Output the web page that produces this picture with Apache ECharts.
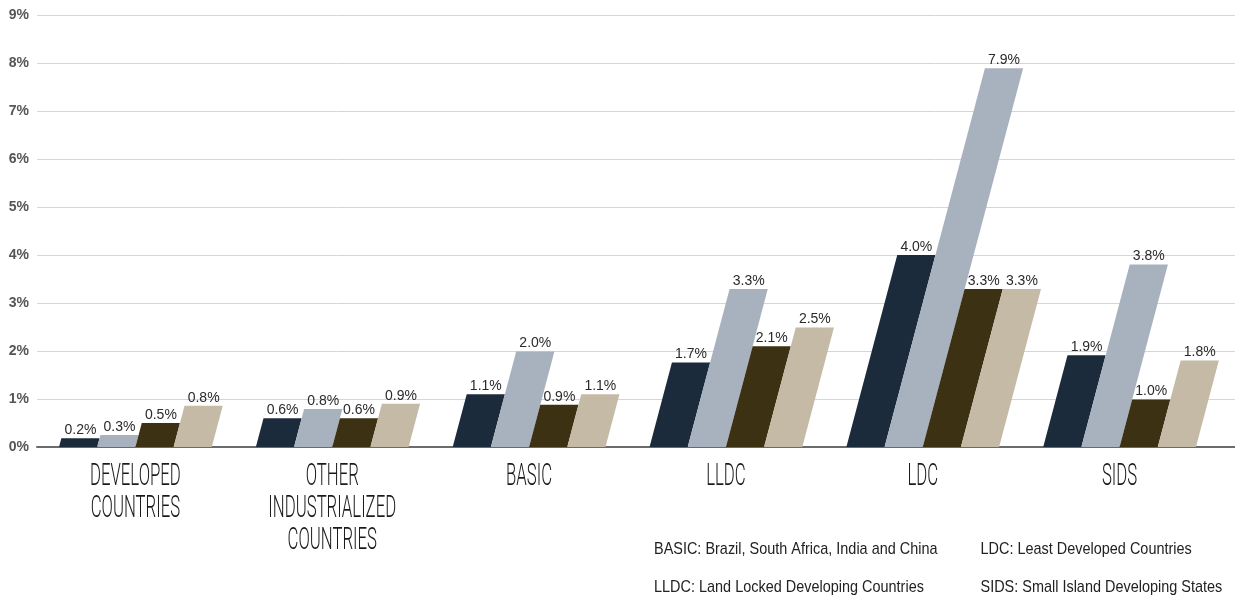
<!DOCTYPE html>
<html><head><meta charset="utf-8">
<script src="https://cdn.jsdelivr.net/npm/echarts@6/dist/echarts.min.js"></script>
<style>html,body{margin:0;padding:0;background:#fff}#c{width:1235px;height:598px}</style>
</head><body><div id="c"></div>
<script>
// ---- data ----
const categories = ['DEVELOPED\nCOUNTRIES', 'OTHER\nINDUSTRIALIZED\nCOUNTRIES', 'BASIC', 'LLDC', 'LDC', 'SIDS'];
const seriesA = [0.18, 0.60, 1.10, 1.76, 4.00, 1.91];
const seriesB = [0.25, 0.79, 1.99, 3.29, 7.89, 3.80];
const seriesC = [0.50, 0.60, 0.88, 2.10, 3.29, 0.99];
const seriesD = [0.86, 0.90, 1.10, 2.49, 3.29, 1.80];
const labelsA = ['0.2%', '0.6%', '1.1%', '1.7%', '4.0%', '1.9%'];
const labelsB = ['0.3%', '0.8%', '2.0%', '3.3%', '7.9%', '3.8%'];
const labelsC = ['0.5%', '0.6%', '0.9%', '2.1%', '3.3%', '1.0%'];
const labelsD = ['0.8%', '0.9%', '1.1%', '2.5%', '3.3%', '1.8%'];
const yTicks = [0, 1, 2, 3, 4, 5, 6, 7, 8, 9];
const notes = [
  'BASIC: Brazil, South Africa, India and China',
  'LDC: Least Developed Countries',
  'LLDC: Land Locked Developing Countries',
  'SIDS: Small Island Developing States'
];

// ---- style ----
const colors = ['#1c2b3b', '#a8b2bf', '#3d3113', '#c4baa6'];
const BAR_FRAC = 0.776;
const SLANT = 0.265;

function barSeries(k, values, labels) {
  return {
    type: 'custom',
    xAxisIndex: 1, yAxisIndex: 1,
    data: values.map((v, i) => [i, v]),
    encode: { x: 0, y: 1 },
    renderItem: function (params, api) {
      const i = api.value(0), v = api.value(1);
      const base = api.coord([i, 0]);
      const top = api.coord([i, v]);
      const catW = api.size([1, 0])[0];
      const bw = catW * BAR_FRAC / 4;
      const x0 = base[0] + (k - 2) * bw;
      const h = base[1] - top[1];
      const sh = h * SLANT;
      return {
        type: 'group',
        children: [
          { type: 'polygon',
            shape: { points: [[x0, base[1]], [x0 + bw, base[1]], [x0 + bw + sh, top[1]], [x0 + sh, top[1]]] },
            style: { fill: colors[k] } },
          { type: 'text', x: x0 + sh + bw / 2, y: top[1] - 1,
            style: { text: labels[i], fill: '#2a2a2a', font: '14px "Liberation Sans", Arial, sans-serif',
                     align: 'center', verticalAlign: 'bottom', textAlign: 'center', textVerticalAlign: 'bottom' } }
        ]
      };
    }
  };
}

const catLabelSeries = {
  type: 'custom',
  xAxisIndex: 1, yAxisIndex: 1,
  data: categories.map((c, i) => [i, 0]),
  encode: { x: 0, y: 1 },
  silent: true,
  renderItem: function (params, api) {
    const i = api.value(0);
    const p = api.coord([i, 0]);
    return {
      type: 'text', x: p[0], y: p[1] + 14, scaleX: 0.54, scaleY: 1,
      style: { text: categories[i], fill: '#1a1a1a',
               font: '300 31px Roboto, "Liberation Sans", sans-serif', lineHeight: 32,
               align: 'center', verticalAlign: 'top', textAlign: 'center', textVerticalAlign: 'top' }
    };
  }
};

const chart = echarts.init(document.getElementById('c'), null, { renderer: 'canvas' });
const noteFont = '17px "Liberation Sans", Arial, sans-serif';
chart.setOption({
  animation: false,
  backgroundColor: '#ffffff',
  grid: [
    { left: 37, right: 0, top: 15, bottom: 151 },
    { left: 37, right: 17, top: 15, bottom: 151 }
  ],
  xAxis: [
    { gridIndex: 0, type: 'value', min: 0, max: 1,
      axisLine: { show: true, lineStyle: { color: '#6b6b6b', width: 2 } },
      axisTick: { show: false }, axisLabel: { show: false }, splitLine: { show: false } },
    { gridIndex: 1, type: 'category', data: categories, show: false }
  ],
  yAxis: [
    { gridIndex: 0, type: 'value', min: yTicks[0], max: yTicks[yTicks.length - 1], interval: 1,
      axisLine: { show: false }, axisTick: { show: false },
      axisLabel: { formatter: '{value}%', color: '#555555', fontWeight: 'bold', fontSize: 14,
                   fontFamily: '"Liberation Sans", Arial, sans-serif', margin: 8 },
      splitLine: { lineStyle: { color: '#d6d6d6', width: 1 } } },
    { gridIndex: 1, type: 'value', min: yTicks[0], max: yTicks[yTicks.length - 1], interval: 1, show: false }
  ],
  graphic: [
    { type: 'text', x: 654, y: 549.5, scaleX: 0.85, style: { text: notes[0], fill: '#222', font: noteFont, verticalAlign: 'middle', textVerticalAlign: 'middle' } },
    { type: 'text', x: 980.5, y: 549.5, scaleX: 0.85, style: { text: notes[1], fill: '#222', font: noteFont, verticalAlign: 'middle', textVerticalAlign: 'middle' } },
    { type: 'text', x: 654, y: 587.5, scaleX: 0.85, style: { text: notes[2], fill: '#222', font: noteFont, verticalAlign: 'middle', textVerticalAlign: 'middle' } },
    { type: 'text', x: 980.5, y: 587.5, scaleX: 0.85, style: { text: notes[3], fill: '#222', font: noteFont, verticalAlign: 'middle', textVerticalAlign: 'middle' } }
  ],
  series: [
    barSeries(0, seriesA, labelsA),
    barSeries(1, seriesB, labelsB),
    barSeries(2, seriesC, labelsC),
    barSeries(3, seriesD, labelsD),
    catLabelSeries
  ]
});
</script>
</body></html>
